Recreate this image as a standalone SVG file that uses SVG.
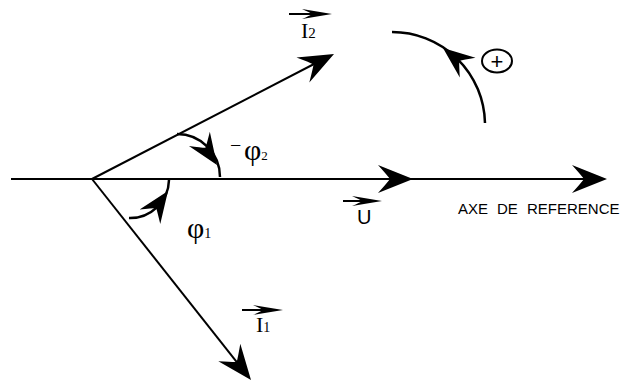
<svg xmlns="http://www.w3.org/2000/svg" width="625" height="383" viewBox="0 0 625 383">
<style>
.ln{fill:none;stroke:#000;stroke-width:2}
.arc{fill:none;stroke:#000;stroke-width:2.5}
.hd{fill:#000;stroke:none}
.serif{font-family:"Liberation Serif","Times New Roman",serif;fill:#000}
.sans{font-family:"Liberation Sans",Arial,sans-serif;fill:#000}
</style>
<defs>
<path id="ah" d="M0,0 L-35,-14 Q-26,-4 -23,0 Q-26,4 -35,14 Z"/>
<path id="sah" d="M0,0 L-30,-5 Q-22,-1.5 -20,0 Q-22,1.5 -30,5 Z"/>
</defs>
<rect width="625" height="383" fill="#fff"/>
<g id="connectors">
<path class="ln" d="M11,179 L590,179"/>
<path class="ln" d="M92,179 L316,63"/>
<path class="ln" d="M92,179 L238.6,364.3"/>
<use class="hd" href="#ah" transform="translate(413,179)"/>
<use class="hd" href="#ah" transform="translate(607,179)"/>
<use class="hd" href="#ah" transform="translate(334,54) rotate(-27.3)"/>
<use class="hd" href="#ah" transform="translate(251,380) rotate(51.7)"/>
</g>
<g id="angle-phi2">
<path class="arc" d="M177,134 A43,43 0 0 1 220,177"/>
<use class="hd" href="#ah" transform="translate(217,165) rotate(56) scale(0.9)"/>
<text class="serif"><tspan x="230" y="152" font-size="20">−</tspan><tspan x="244" y="160" font-size="30">φ</tspan><tspan font-size="13">2</tspan></text>
</g>
<g id="angle-phi1">
<path class="arc" d="M129,218 A39,39 0 0 0 169,180"/>
<use class="hd" href="#ah" transform="translate(168,191) rotate(-55) scale(0.9)"/>
<text class="serif" x="187" y="238"><tspan font-size="30">φ</tspan><tspan font-size="14">1</tspan></text>
</g>
<g id="rotation">
<path class="arc" d="M392,32 A93,93 0 0 1 485,123"/>
<use class="hd" href="#ah" transform="translate(443,48) rotate(-141.5) scale(0.9)"/>
</g>
<g id="plus">
<ellipse cx="497" cy="61" rx="15" ry="11.5" fill="none" stroke="#000" stroke-width="2"/>
<text class="sans" x="497" y="68.5" font-size="22" text-anchor="middle">+</text>
</g>
<g id="label-I2">
<path class="ln" d="M289,14 L313,14"/>
<use class="hd" href="#sah" transform="translate(332,14)"/>
<text class="serif" x="301" y="37.5"><tspan font-size="22">I</tspan><tspan font-size="15">2</tspan></text>
</g>
<g id="label-I1">
<path class="ln" d="M242,310 L264,310"/>
<use class="hd" href="#sah" transform="translate(283,310)"/>
<text class="serif" x="256" y="332"><tspan font-size="22">I</tspan><tspan font-size="14">1</tspan></text>
</g>
<g id="label-U">
<path class="ln" d="M343,201 L363,201"/>
<use class="hd" href="#sah" transform="translate(382,201)"/>
<text class="sans" x="357" y="224" font-size="20">U</text>
</g>
<g id="label-axe">
<text class="sans" y="214" font-size="15"><tspan x="458">AXE</tspan><tspan x="497">DE</tspan><tspan x="527">REFERENCE</tspan></text>
</g>
</svg>
